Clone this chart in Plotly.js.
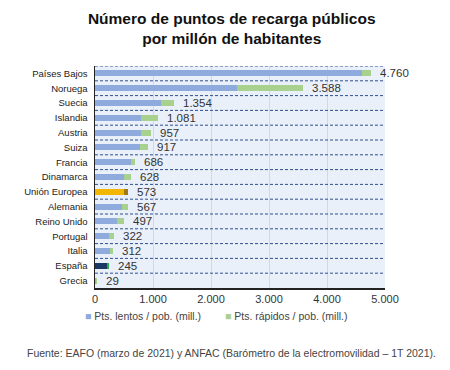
<!DOCTYPE html>
<html>
<head>
<meta charset="utf-8">
<script src="https://cdn.plot.ly/plotly-3.0.1.min.js"></script>
<style>html,body{margin:0;padding:0;background:#fff;}#chart{width:450px;height:370px;}</style>
</head>
<body>
<div id="chart"></div>
<script>
const categories = ["Países Bajos","Noruega","Suecia","Islandia","Austria","Suiza","Francia","Dinamarca","Unión Europea","Alemania","Reino Unido","Portugal","Italia","España","Grecia"];
const slowValues = [4610, 2450, 1140, 790, 790, 775, 620, 500, 500, 465, 380, 235, 260, 215, 22];
const fastValues = [150, 1138, 214, 291, 167, 142, 66, 128, 73, 102, 117, 87, 52, 30, 7];
const totalLabels = [4760, 3588, 1354, 1081, 957, 917, 686, 628, 573, 567, 497, 322, 312, 245, 29];
const xTicks = [0, 1000, 2000, 3000, 4000, 5000];
const seriesNames = ["Pts. lentos / pob. (mill.)", "Pts. rápidos / pob. (mill.)"];

const BLUE = "#8faadc", GREEN = "#a9d18e";
const slowColors = categories.map(c => c === "Unión Europea" ? "#f2b705" : (c === "España" ? "#1b3763" : BLUE));
const fastColors = categories.map(c => c === "Unión Europea" ? "#9c7a14" : (c === "España" ? "#2ea84a" : GREEN));

function fmt(n){ return String(n).replace(/\B(?=(\d{3})+(?!\d))/g, "."); }

const totals = slowValues.map((v,i) => v + fastValues[i]);
const FONT = "Liberation Sans, Arial, sans-serif";

const traces = [
  {type:"bar", orientation:"h", name:seriesNames[0], y:categories, x:slowValues,
   marker:{color:slowColors}, width:0.4, hoverinfo:"skip", showlegend:false},
  {type:"bar", orientation:"h", name:seriesNames[1], y:categories, x:fastValues,
   marker:{color:fastColors}, width:0.4, hoverinfo:"skip", showlegend:false}
];

const shapes = [];
for (let i = 0; i < categories.length; i++) {
  shapes.push({type:"line", xref:"paper", x0:0, x1:1, yref:"y", y0:i-0.5, y1:i-0.5,
    line:{color:"#2f4f8f", width:1, dash:"3px,2px"}, layer:"above"});
}

const annotations = categories.map((c,i) => ({
  x: totals[i], y: c, xref:"x", yref:"y", text: fmt(totalLabels[i]), showarrow:false,
  xanchor:"left", yanchor:"middle", xshift:7, font:{family:FONT, size:11.5, color:"#333"}
}));

annotations.push({text:'<span style="color:' + BLUE + '">■</span> ' + seriesNames[0],
  xref:"paper", yref:"paper", x:-0.04, xanchor:"left", y:-0.127, yanchor:"middle", showarrow:false,
  font:{family:FONT, size:10.5, color:"#444"}});
annotations.push({text:'<span style="color:' + GREEN + '">■</span> ' + seriesNames[1],
  xref:"paper", yref:"paper", x:0.443, xanchor:"left", y:-0.127, yanchor:"middle", showarrow:false,
  font:{family:FONT, size:10.5, color:"#444"}});
annotations.push({text:"Fuente: EAFO (marzo de 2021) y ANFAC (Barómetro de la electromovilidad – 1T 2021).",
  xref:"paper", yref:"paper", x:0.469, xanchor:"center", y:-0.295, yanchor:"middle", showarrow:false,
  font:{family:FONT, size:10.5, color:"#444"}});

const layout = {
  width:450, height:370,
  margin:{l:95, r:65, t:66, b:82},
  paper_bgcolor:"#ffffff", plot_bgcolor:"#e9f0fa",
  barmode:"stack",
  font:{family:FONT, color:"#333"},
  showlegend:false,
  title:{text:"<b>Número de puntos de recarga públicos<br>por millón de habitantes</b>",
    font:{family:FONT, size:15.5, color:"#111"},
    x:0.515, xanchor:"center", yref:"container", y:0.935, yanchor:"middle"},
  xaxis:{range:[0,5000], tickvals:xTicks, ticktext:xTicks.map(fmt), showgrid:true, gridcolor:"#d3d9e2",
    zeroline:false, showline:true, linecolor:"#222", linewidth:1.5, ticks:"",
    tickfont:{size:11, color:"#333"}, fixedrange:true},
  yaxis:{type:"category", showgrid:false, zeroline:false, showline:true,
    linecolor:"#222", linewidth:1.5, ticks:"", ticklen:0, ticklabelstandoff:4,
    tickfont:{size:9.5, color:"#222"},
    range:[categories.length-0.5, -0.5]},
  shapes:shapes,
  annotations:annotations
};

Plotly.newPlot("chart", traces, layout, {displayModeBar:false, staticPlot:true});
</script>
</body>
</html>
